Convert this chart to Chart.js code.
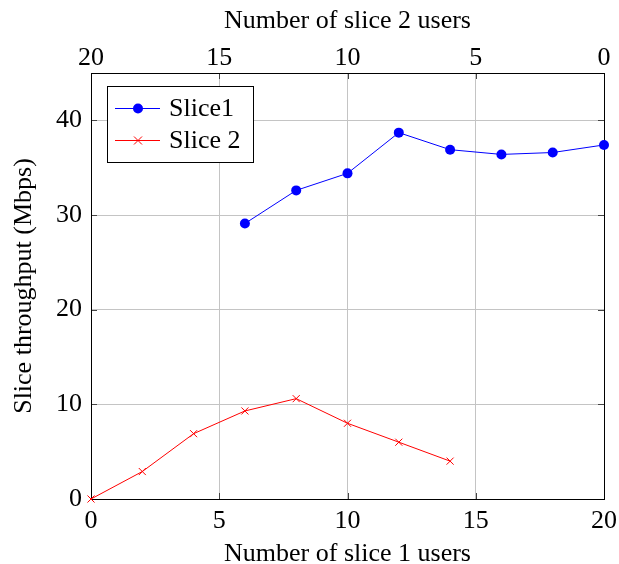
<!DOCTYPE html>
<html>
<head>
<meta charset="utf-8">
<script src="https://cdn.jsdelivr.net/npm/chart.js@4.4.0/dist/chart.umd.min.js"></script>
<style>
body { margin: 0; background: #fff; }
#wrap { width: 619px; height: 564px; }
</style>
</head>
<body>
<div id="wrap"><canvas id="chart"></canvas></div>
<script>
// slice 1 series (x = number of slice 1 users)
var slice1Users = [6, 8, 10, 12, 14, 16, 18, 20];
var slice1Throughput = [29.1, 32.6, 34.4, 38.7, 36.9, 36.4, 36.6, 37.4];

// slice 2 series, plotted on the same bottom axis
var slice2Users = [0, 2, 4, 6, 8, 10, 12, 14];
var slice2Throughput = [0, 2.9, 6.9, 9.3, 10.6, 8.0, 6.0, 4.0];

var xTicks = [0, 5, 10, 15, 20];
var topTicks = [20, 15, 10, 5, 0];
var yTicks = [0, 10, 20, 30, 40];

var seriesNames = ["Slice1", "Slice 2"];
var seriesColors = ["#0000ff", "#ff0000"];

var FONT = "'Liberation Serif', 'Times New Roman', serif";

function pairs(xs, ys) {
	var out = [];
	for (var i = 0; i < xs.length; i++) out.push({ x: xs[i], y: ys[i] });
	return out;
}

function noSidePad(s) {
	s.paddingLeft = 0;
	s.paddingRight = 0;
}

// box, inner tick marks and the legend, pgfplots style
var framePlugin = {
	id: "frame",
	beforeDatasetsDraw: function (chart) {
		var c = chart.ctx, a = chart.chartArea;
		var sx = chart.scales.x, sy = chart.scales.y;
		c.save();
		c.strokeStyle = "#444";
		c.lineWidth = 1;
		c.beginPath();
		xTicks.forEach(function (v) {
			var px = Math.round(sx.getPixelForValue(v)) + 0.5;
			c.moveTo(px, a.bottom); c.lineTo(px, a.bottom - 6);
			c.moveTo(px, a.top); c.lineTo(px, a.top + 6);
		});
		yTicks.forEach(function (v) {
			var py = Math.round(sy.getPixelForValue(v)) + 0.5;
			c.moveTo(a.left, py); c.lineTo(a.left + 6, py);
			c.moveTo(a.right, py); c.lineTo(a.right - 6, py);
		});
		c.stroke();
		c.strokeStyle = "#000";
		c.strokeRect(Math.round(a.left) + 0.5, Math.round(a.top) + 0.5,
			Math.round(a.right - a.left), Math.round(a.bottom - a.top));
		c.restore();
	},
	afterDraw: function (chart) {
		var c = chart.ctx, a = chart.chartArea;
		var bx = a.left + 16, by = a.top + 13, bw = 146, bh = 76;
		c.save();
		c.fillStyle = "#fff";
		c.fillRect(bx, by, bw, bh);
		c.strokeStyle = "#000";
		c.lineWidth = 1;
		c.strokeRect(bx + 0.5, by + 0.5, bw, bh);
		c.font = "26px " + FONT;
		c.textBaseline = "middle";
		for (var i = 0; i < seriesNames.length; i++) {
			var ry = by + 22 + i * 32;
			c.strokeStyle = seriesColors[i];
			c.beginPath();
			c.moveTo(bx + 8, ry + 0.5); c.lineTo(bx + 53, ry + 0.5);
			c.stroke();
			if (i === 0) {
				c.fillStyle = seriesColors[i];
				c.beginPath(); c.arc(bx + 31, ry + 0.5, 5, 0, Math.PI * 2); c.fill();
			} else {
				c.beginPath();
				c.moveTo(bx + 27, ry - 3.5); c.lineTo(bx + 35, ry + 4.5);
				c.moveTo(bx + 35, ry - 3.5); c.lineTo(bx + 27, ry + 4.5);
				c.stroke();
			}
			c.fillStyle = "#000";
			c.fillText(seriesNames[i], bx + 62, ry + 1);
		}
		c.restore();
	}
};

var ctx = document.getElementById("chart");

var chart = new Chart(ctx, {
	type: "line",
	data: {
		datasets: [
			{
				label: seriesNames[0],
				data: pairs(slice1Users, slice1Throughput),
				borderColor: seriesColors[0],
				backgroundColor: seriesColors[0],
				borderWidth: 1,
				pointStyle: "circle",
				pointRadius: 5,
				pointBorderWidth: 0,
				tension: 0,
				clip: false
			},
			{
				label: seriesNames[1],
				data: pairs(slice2Users, slice2Throughput),
				borderColor: seriesColors[1],
				backgroundColor: seriesColors[1],
				borderWidth: 1,
				pointStyle: "crossRot",
				pointRadius: 5,
				pointBorderWidth: 1,
				tension: 0,
				clip: false
			}
		]
	},
	options: {
		responsive: true,
		maintainAspectRatio: false,
		animation: false,
		layout: { padding: { left: 0, right: 15, top: 0, bottom: 0 } },
		plugins: {
			legend: { display: false },
			tooltip: { enabled: false }
		},
		scales: {
			x: {
				type: "linear",
				position: "bottom",
				min: 0, max: 20,
				afterBuildTicks: function (s) { s.ticks = xTicks.map(function (v) { return { value: v }; }); },
				afterFit: function (s) { s.height = 65; noSidePad(s); },
				grid: { color: "#c4c4c4", drawTicks: false },
				border: { display: false },
				ticks: { color: "#000", padding: 7, font: { family: FONT, size: 26 } },
				title: {
					display: true, text: "Number of slice 1 users", color: "#000",
					font: { family: FONT, size: 26 }, padding: { top: 0, bottom: -6 }
				}
			},
			x2: {
				type: "linear",
				position: "top",
				reverse: true,
				min: 0, max: 20,
				afterBuildTicks: function (s) { s.ticks = topTicks.map(function (v) { return { value: v }; }); },
				afterFit: function (s) { s.height = 73; noSidePad(s); },
				grid: { display: false, drawTicks: false },
				border: { display: false },
				ticks: { color: "#000", padding: -1, font: { family: FONT, size: 26 } },
				title: {
					display: true, text: "Number of slice 2 users", color: "#000",
					font: { family: FONT, size: 26 }, padding: { top: 6, bottom: 0 }
				}
			},
			y: {
				type: "linear",
				position: "left",
				min: 0, max: 45,
				afterBuildTicks: function (s) { s.ticks = yTicks.map(function (v) { return { value: v }; }); },
				afterFit: function (s) { s.width = 91; },
				grid: { color: "#c4c4c4", drawTicks: false },
				border: { display: false },
				ticks: { color: "#000", padding: 9, font: { family: FONT, size: 26 } },
				title: {
					display: true, text: "Slice throughput (Mbps)", color: "#000",
					font: { family: FONT, size: 26 }, padding: { top: 9, bottom: 0 }
				}
			}
		}
	},
	plugins: [framePlugin]
});
</script>
</body>
</html>
